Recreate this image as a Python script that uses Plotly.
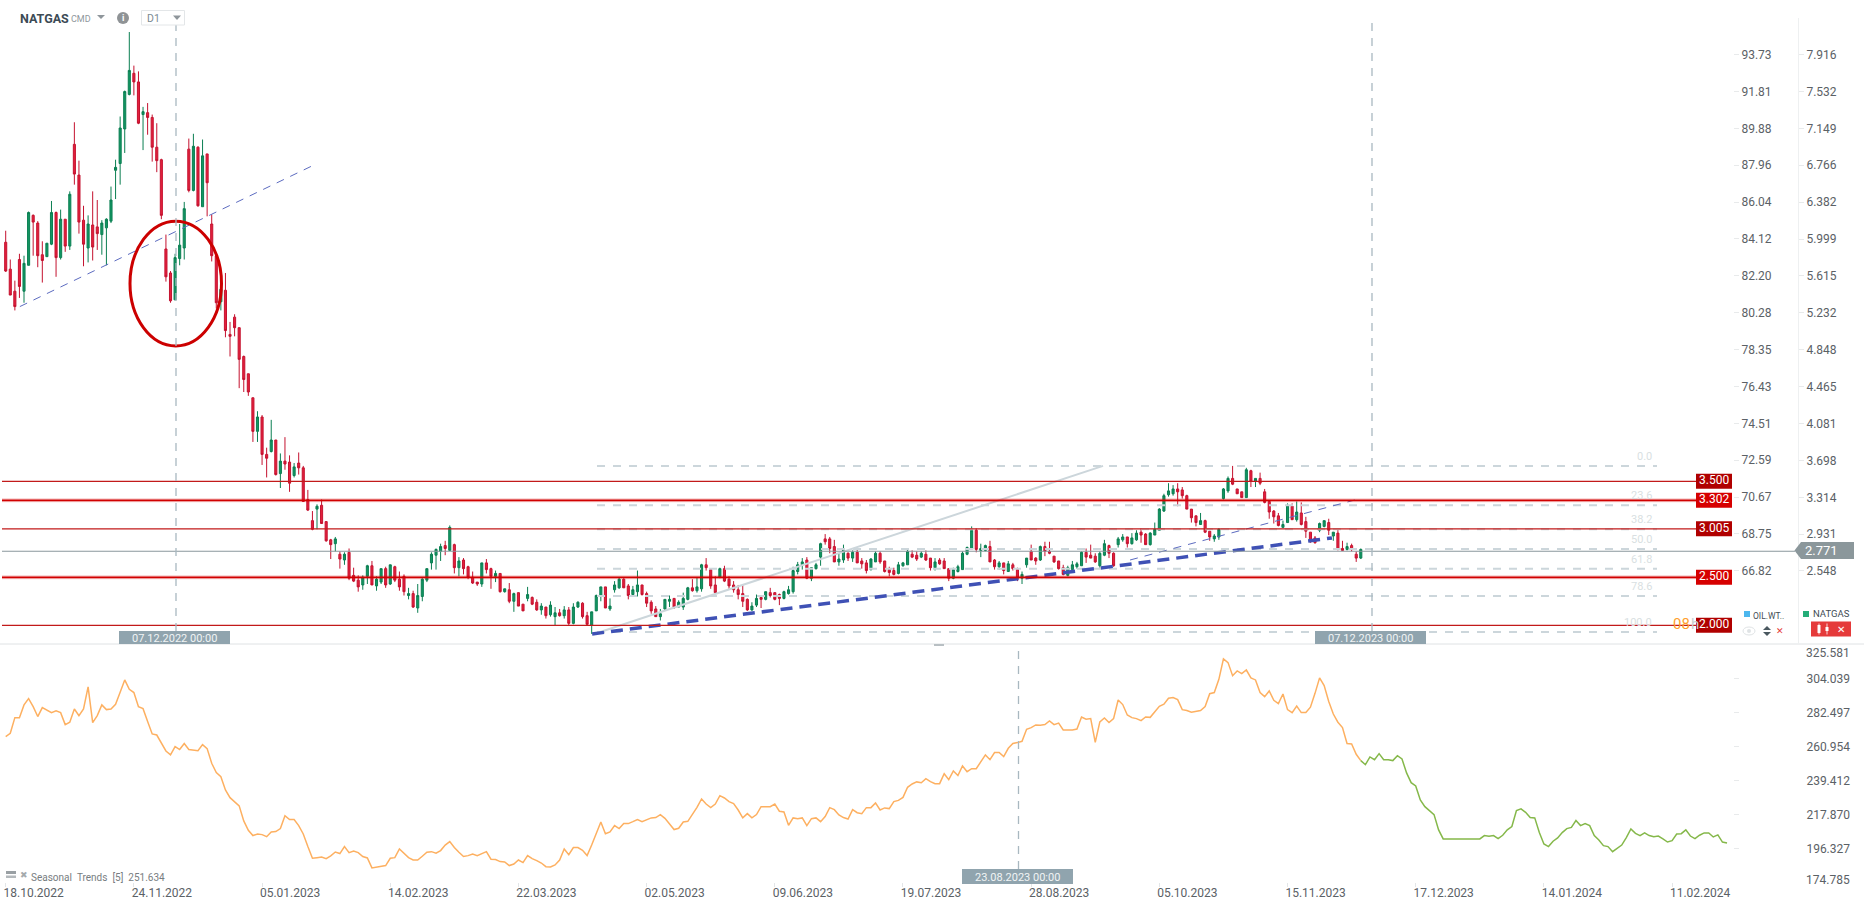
import plotly.graph_objects as go

W, H = 1866, 909

highs = [
6.11,5.81,5.59,5.87,5.85,6.31,6.28,6.21,6.00,5.98,
6.42,6.31,6.33,6.23,6.52,7.24,6.84,6.37,6.27,6.52,
6.43,6.22,6.24,6.57,6.85,7.30,7.57,8.18,7.83,7.77,
7.40,7.44,7.32,7.23,6.86,6.07,5.69,5.87,6.18,6.41,
7.07,7.12,6.99,7.06,6.91,6.28,5.86,5.50,5.67,5.16,
5.24,5.10,4.81,4.62,4.37,4.23,4.19,3.85,4.14,3.93,
3.79,3.96,3.77,3.69,3.80,3.66,3.41,3.19,3.26,3.31,
3.08,2.90,2.92,2.77,2.76,2.80,2.60,2.52,2.52,2.63,
2.67,2.51,2.59,2.61,2.63,2.62,2.56,2.53,2.39,2.36,
2.43,2.49,2.59,2.76,2.80,2.85,2.88,3.04,2.85,2.71,
2.70,2.62,2.56,2.45,2.65,2.69,2.60,2.57,2.54,2.38,
2.44,2.34,2.34,2.22,2.40,2.30,2.27,2.23,2.19,2.25,
2.19,2.17,2.20,2.19,2.23,2.25,2.24,2.14,2.14,2.32,
2.40,2.40,2.28,2.46,2.50,2.49,2.43,2.41,2.57,2.42,
2.35,2.26,2.20,2.17,2.27,2.31,2.28,2.26,2.34,2.40,
2.48,2.50,2.64,2.70,2.59,2.51,2.60,2.62,2.51,2.46,
2.42,2.42,2.28,2.24,2.32,2.30,2.35,2.39,2.34,2.33,
2.36,2.41,2.61,2.66,2.70,2.71,2.60,2.65,2.86,2.95,
2.92,2.89,2.75,2.84,2.76,2.78,2.80,2.70,2.68,2.70,
2.77,2.77,2.67,2.61,2.60,2.66,2.66,2.80,2.78,2.77,
2.77,2.78,2.70,2.70,2.70,2.70,2.59,2.60,2.63,2.77,
2.82,3.03,3.01,2.85,2.84,2.88,2.69,2.67,2.65,2.67,
2.65,2.60,2.56,2.70,2.84,2.71,2.83,2.87,2.87,2.72,
2.67,2.63,2.62,2.67,2.66,2.77,2.80,2.84,2.75,2.77,
2.89,2.84,2.76,2.92,2.95,2.92,2.96,2.99,3.01,2.96,
2.97,3.07,3.22,3.37,3.48,3.46,3.48,3.44,3.36,3.21,
3.14,3.17,3.10,2.98,2.95,3.01,3.43,3.55,3.66,3.42,
3.39,3.64,3.62,3.53,3.59,3.42,3.30,3.20,3.17,3.09,
3.27,3.27,3.29,3.28,3.13,2.97,2.93,3.07,3.09,3.11,
2.97,3.00,2.88,2.86,2.85,2.77,2.80]

lows = [
5.68,5.44,5.28,5.41,5.36,5.75,5.85,5.73,5.57,5.84,
5.96,5.63,5.81,5.89,5.91,6.59,6.08,5.74,5.78,5.80,
5.91,5.86,5.75,6.19,6.44,6.59,6.92,7.52,7.52,7.22,
6.95,7.11,6.83,6.72,6.23,5.58,5.36,5.39,5.75,5.81,
6.51,6.52,6.36,6.36,6.26,5.79,5.30,5.28,5.00,4.80,
5.01,4.47,4.43,4.39,3.91,3.91,3.67,3.54,3.80,3.56,
3.43,3.62,3.39,3.54,3.57,3.29,3.19,2.99,3.00,3.06,
2.87,2.69,2.77,2.59,2.63,2.47,2.45,2.35,2.37,2.43,
2.42,2.36,2.43,2.39,2.42,2.45,2.36,2.31,2.27,2.18,
2.13,2.25,2.45,2.58,2.58,2.67,2.73,2.78,2.54,2.51,
2.53,2.48,2.43,2.41,2.40,2.54,2.38,2.45,2.34,2.34,
2.23,2.14,2.20,2.15,2.25,2.21,2.15,2.11,2.07,2.09,
2.00,2.09,2.07,2.00,2.01,2.18,2.07,2.00,1.91,2.15,
2.25,2.18,2.15,2.34,2.38,2.39,2.27,2.30,2.30,2.31,
2.19,2.12,2.09,2.05,2.16,2.19,2.17,2.19,2.16,2.26,
2.35,2.34,2.35,2.57,2.38,2.34,2.49,2.45,2.38,2.34,
2.27,2.19,2.15,2.15,2.19,2.18,2.26,2.29,2.26,2.21,
2.27,2.32,2.33,2.53,2.58,2.48,2.46,2.58,2.62,2.84,
2.75,2.66,2.62,2.65,2.67,2.66,2.65,2.59,2.54,2.57,
2.66,2.64,2.55,2.51,2.52,2.53,2.61,2.63,2.70,2.67,
2.70,2.67,2.57,2.57,2.63,2.59,2.46,2.48,2.55,2.58,
2.73,2.79,2.76,2.71,2.77,2.66,2.58,2.58,2.53,2.56,
2.57,2.46,2.43,2.60,2.68,2.63,2.67,2.72,2.74,2.65,
2.58,2.52,2.51,2.58,2.59,2.62,2.65,2.70,2.65,2.60,
2.72,2.70,2.61,2.81,2.87,2.81,2.84,2.88,2.86,2.84,
2.83,2.94,2.99,3.18,3.34,3.35,3.24,3.32,3.21,3.07,
3.03,3.05,2.96,2.88,2.87,2.89,3.31,3.38,3.46,3.37,
3.33,3.33,3.44,3.44,3.46,3.27,3.11,3.06,3.03,3.02,
3.07,3.10,3.08,3.04,2.91,2.86,2.85,2.97,3.02,2.94,
2.88,2.78,2.78,2.78,2.77,2.66,2.69]

opens = [
5.99,5.71,5.48,5.81,5.48,5.75,6.27,6.19,5.86,5.84,
5.97,6.30,5.83,6.23,5.95,7.01,6.69,6.22,5.93,6.17,
6.15,6.07,6.14,6.21,6.74,6.81,7.17,7.53,7.75,7.66,
7.32,7.34,7.29,6.98,6.85,5.92,5.67,5.39,5.82,5.93,
6.96,6.53,6.98,6.36,6.91,6.18,5.85,5.37,5.49,5.03,
5.21,5.10,4.80,4.62,4.37,4.02,4.17,3.78,3.81,3.93,
3.58,3.71,3.70,3.56,3.69,3.64,3.31,3.09,3.21,3.25,
3.08,2.89,2.85,2.74,2.68,2.76,2.52,2.47,2.42,2.51,
2.62,2.41,2.45,2.59,2.43,2.61,2.48,2.51,2.31,2.33,
2.18,2.30,2.47,2.65,2.73,2.77,2.83,2.78,2.84,2.60,
2.68,2.61,2.50,2.45,2.43,2.65,2.59,2.51,2.54,2.35,
2.37,2.25,2.34,2.22,2.28,2.29,2.24,2.16,2.19,2.11,
2.09,2.13,2.10,2.16,2.02,2.19,2.23,2.10,2.00,2.15,
2.31,2.40,2.17,2.37,2.39,2.48,2.41,2.32,2.35,2.42,
2.33,2.24,2.17,2.09,2.17,2.25,2.28,2.19,2.19,2.27,
2.39,2.36,2.38,2.63,2.58,2.42,2.50,2.59,2.48,2.42,
2.37,2.33,2.27,2.16,2.21,2.29,2.27,2.34,2.34,2.32,
2.28,2.33,2.35,2.56,2.63,2.68,2.49,2.59,2.71,2.90,
2.90,2.82,2.66,2.68,2.75,2.70,2.76,2.67,2.65,2.58,
2.66,2.75,2.67,2.58,2.57,2.54,2.62,2.63,2.74,2.73,
2.71,2.74,2.70,2.60,2.68,2.67,2.59,2.49,2.56,2.58,
2.74,2.79,2.99,2.78,2.78,2.82,2.68,2.61,2.65,2.56,
2.63,2.58,2.49,2.63,2.77,2.70,2.68,2.82,2.77,2.72,
2.67,2.60,2.52,2.58,2.61,2.62,2.76,2.73,2.72,2.62,
2.73,2.83,2.75,2.84,2.89,2.92,2.85,2.89,2.97,2.95,
2.84,2.94,2.99,3.19,3.36,3.37,3.42,3.41,3.35,3.21,
3.14,3.05,3.09,2.98,2.90,2.92,3.32,3.40,3.53,3.42,
3.39,3.33,3.61,3.50,3.53,3.39,3.29,3.19,3.14,3.02,
3.07,3.24,3.10,3.17,3.08,2.97,2.91,2.99,3.03,3.07,
2.93,2.96,2.80,2.79,2.83,2.74,2.70]

closes = [
5.69,5.44,5.32,5.53,5.77,6.30,6.20,5.85,5.80,5.98,
6.30,5.83,6.23,5.95,6.49,6.70,6.20,5.97,6.18,5.94,
6.08,6.19,6.23,6.43,6.77,7.18,7.56,7.78,7.66,7.23,
7.35,7.29,6.98,6.84,6.27,5.63,5.38,5.83,5.96,6.34,
6.53,6.99,6.37,6.89,6.61,5.85,5.36,5.50,5.07,5.01,
5.10,4.77,4.56,4.43,4.02,4.17,3.78,3.74,3.93,3.57,
3.71,3.68,3.48,3.65,3.64,3.29,3.20,3.00,3.24,3.06,
2.88,2.84,2.90,2.69,2.74,2.49,2.46,2.40,2.50,2.62,
2.42,2.48,2.59,2.42,2.63,2.47,2.40,2.35,2.33,2.19,
2.31,2.48,2.59,2.74,2.79,2.82,2.80,3.02,2.60,2.67,
2.59,2.50,2.44,2.43,2.65,2.58,2.51,2.54,2.35,2.38,
2.25,2.33,2.20,2.15,2.32,2.22,2.16,2.20,2.10,2.21,
2.13,2.10,2.16,2.02,2.19,2.24,2.09,2.01,2.14,2.31,
2.40,2.18,2.20,2.42,2.48,2.39,2.31,2.37,2.42,2.32,
2.23,2.15,2.09,2.12,2.27,2.27,2.19,2.24,2.28,2.39,
2.36,2.40,2.63,2.60,2.41,2.34,2.59,2.46,2.41,2.37,
2.32,2.25,2.16,2.20,2.28,2.27,2.35,2.31,2.27,2.28,
2.35,2.37,2.57,2.63,2.66,2.49,2.60,2.63,2.85,2.87,
2.80,2.66,2.69,2.79,2.70,2.76,2.65,2.64,2.57,2.69,
2.75,2.66,2.56,2.55,2.53,2.63,2.65,2.77,2.71,2.69,
2.75,2.68,2.60,2.66,2.64,2.59,2.49,2.58,2.61,2.75,
2.81,2.99,2.79,2.80,2.83,2.66,2.61,2.65,2.57,2.64,
2.59,2.49,2.53,2.70,2.68,2.67,2.82,2.77,2.75,2.66,
2.59,2.53,2.60,2.63,2.64,2.76,2.71,2.70,2.66,2.75,
2.85,2.75,2.62,2.90,2.92,2.85,2.91,2.96,2.94,2.84,
2.96,3.00,3.21,3.35,3.40,3.42,3.39,3.35,3.21,3.12,
3.07,3.09,2.97,2.92,2.93,3.00,3.42,3.53,3.47,3.37,
3.33,3.62,3.50,3.53,3.48,3.28,3.18,3.13,3.04,3.05,
3.25,3.10,3.18,3.05,2.98,2.87,2.86,3.06,3.09,2.99,
2.97,2.79,2.78,2.82,2.79,2.70,2.79]

seasonal_history = [
267.1,269.2,279.1,279.1,287.2,291.2,286.1,279.8,285.5,284.0,282.3,283.4,282.3,274.7,276.2,284.6,280.4,284.6,298.6,276.0,
280.4,287.2,284.2,284.6,287.6,295.2,303.0,297.1,295.0,286.1,284.8,276.6,268.8,268.1,262.9,258.0,255.5,260.8,258.9,262.7,
258.9,258.6,258.2,262.0,259.5,250.2,244.3,241.7,233.3,228.4,225.9,223.2,213.7,207.7,204.4,205.4,205.0,203.7,206.7,206.9,
208.8,217.0,214.5,214.5,210.7,205.4,197.4,190.0,190.4,190.8,189.8,191.5,194.0,193.0,197.4,193.6,194.6,193.6,191.1,190.2,
183.9,184.3,185.1,185.4,190.0,190.4,195.9,193.2,190.4,188.9,188.9,191.3,193.8,194.2,193.2,194.9,198.4,200.6,196.8,193.8,
191.1,191.7,192.7,191.7,192.7,194.2,189.4,189.2,187.9,187.7,185.4,186.4,188.9,
187.3,191.7,189.8,188.5,187.0,184.7,184.5,185.8,188.9,195.9,192.3,196.8,196.8,195.1,191.7,198.4,205.2,213.0,205.6,206.7,
210.7,208.8,212.0,212.0,213.2,214.5,213.2,214.3,215.6,215.8,217.7,215.3,212.0,208.2,209.0,213.0,213.4,217.5,222.3,227.6,
224.4,222.1,224.4,229.7,228.2,225.9,224.6,220.6,215.6,218.3,215.6,217.7,222.7,222.7,222.7,224.4,219.8,219.4,210.9,215.6,
215.1,215.6,210.7,215.1,215.6,213.2,216.4,222.1,220.8,217.5,215.8,214.9,220.8,218.9,218.3,222.1,222.1,225.1,220.6,221.9,
221.5,225.9,226.7,228.6,235.0,237.1,238.4,237.9,240.5,238.6,237.3,237.3,243.6,239.8,245.3,242.4,248.5,244.9,246.8,246.8,
250.8,255.5,252.5,257.0,257.0,254.4,259.7,262.7,263.3,264.1,271.7,272.8,274.5,274.3,
274.7,277.0,274.7,275.7,271.3,271.3,271.3,271.9,279.5,278.1,278.5,263.5,276.4,278.9,276.0,278.5,290.3,287.4,280.8,279.1,
278.5,277.2,279.5,279.3,282.5,286.3,287.6,291.4,291.8,290.5,284.2,283.6,282.5,282.9,283.6,286.1,294.3,295.0,303.4,316.3,
314.0,305.7,308.7,307.0,309.3,304.3,303.0,295.0,292.4,296.0,290.1,288.0,294.1,284.2,282.3,286.5,282.3,282.3,285.7,294.5,
304.3,299.4,289.3,281.4,276.2,272.8,262.7,262.4,255.9,251.9]

seasonal_forecast = [
251.9,249.3,254.2,252.5,256.3,252.5,252.5,251.9,255.0,252.9,244.1,237.9,235.8,227.0,222.7,220.2,217.7,208.0,
202.3,202.3,202.3,202.3,202.3,202.3,202.3,202.3,202.3,
204.4,203.9,204.4,202.5,204.6,208.0,210.1,220.2,221.3,219.1,215.8,215.6,206.3,199.1,197.4,200.8,202.9,
206.3,208.8,209.6,213.9,210.7,212.0,210.7,204.4,201.6,198.0,197.4,194.2,196.3,198.4,203.1,208.6,205.8,204.4,206.1,
204.4,203.7,204.1,202.3,200.3,201.2,205.4,205.6,208.0,204.1,202.5,204.6,206.1,206.1,203.5,204.8,200.3,199.7]

time_tick_labels = ["18.10.2022", "24.11.2022", "05.01.2023", "14.02.2023", "22.03.2023", "02.05.2023", "09.06.2023",
                    "19.07.2023", "28.08.2023", "05.10.2023", "15.11.2023", "17.12.2023", "14.01.2024", "11.02.2024"]
time_tick_bars = [0, 28, 56, 84, 112, 140, 168, 196, 224, 252, 280, 308, 336, 364]

natgas_ticks = [7.916, 7.532, 7.149, 6.766, 6.382, 5.999, 5.615, 5.232, 4.848, 4.465, 4.081, 3.698, 3.314, 2.931, 2.548]
oil_ticks = [93.73, 91.81, 89.88, 87.96, 86.04, 84.12, 82.20, 80.28, 78.35, 76.43, 74.51, 72.59, 70.67, 68.75, 66.82]
seasonal_ticks = [304.039, 282.497, 260.954, 239.412, 217.870, 196.327]
seasonal_edge_ticks = ["325.581", "174.785"]

level_prices = [3.500, 3.302, 3.005, 2.500, 2.000]
level_labels = ["3.500", "3.302", "3.005", "2.500", "2.000"]
level_strong = [False, True, False, True, False]
last_price = 2.771

fib_prices = [3.66, 3.25, 3.00, 2.795, 2.59, 2.305, 1.93]
fib_labels = ["0.0", "23.6", "38.2", "50.0", "61.8", "78.6", "100.0"]

# scale: bar index to pixel, and pane ranges
BAR0, BARW = 5.7, 4.578
PANE_BOTTOM, AXIS_BOTTOM = 644, 882
x_range = [-BAR0 / BARW, (W - BAR0) / BARW]
price_range = [1.805, 8.5135]
natgas_label_range = [1.789, 8.4836]
oil_label_range = [63.01, 96.57]
seasonal_range = [174.98, 325.77]

GREEN_L, GREEN_F = "#0b7f52", "#129663"
RED_L, RED_F = "#c4122f", "#e4203d"
ORANGE, LIME = "#fdb061", "#85b84a"
TAG = "#90a4ae"
TEXT = "#5b6166"

def fx(px): return px / W
def fy(py): return 1 - py / H
def bx(px): return (px - BAR0) / BARW

bars = list(range(len(closes)))
fig = go.Figure()

fig.add_trace(go.Candlestick(
    x=bars, open=opens, high=highs, low=lows, close=closes, xaxis="x", yaxis="y",
    increasing=dict(line=dict(color=GREEN_L, width=1), fillcolor=GREEN_F),
    decreasing=dict(line=dict(color=RED_L, width=1), fillcolor=RED_F),
    whiskerwidth=0, showlegend=False, hoverinfo="skip"))

fig.add_trace(go.Scatter(x=list(range(len(seasonal_history))), y=seasonal_history, mode="lines",
                         line=dict(color=ORANGE, width=1.5), xaxis="x2", yaxis="y2",
                         showlegend=False, hoverinfo="skip"))
start = len(seasonal_history) - 1
fig.add_trace(go.Scatter(x=list(range(start, start + len(seasonal_forecast))), y=seasonal_forecast, mode="lines",
                         line=dict(color=LIME, width=1.5), xaxis="x2", yaxis="y2",
                         showlegend=False, hoverinfo="skip"))
# carriers so the label axes are drawn
for ya, val in (("y3", natgas_ticks[0]), ("y4", oil_ticks[0])):
    fig.add_trace(go.Scatter(x=[0], y=[val], mode="lines", xaxis="x", yaxis=ya, showlegend=False, hoverinfo="skip"))
fig.add_trace(go.Scatter(x=[0], y=[seasonal_ticks[0]], mode="lines", xaxis="x2", yaxis="y5", showlegend=False, hoverinfo="skip"))

shapes, ann = [], []

def add_rect(x0, y0, x1, y1, fill, line=None):
    shapes.append(dict(type="rect", xref="paper", yref="paper", x0=fx(x0), x1=fx(x1), y0=fy(y0), y1=fy(y1),
                       fillcolor=fill, line=dict(color=line or fill, width=1 if line else 0)))

def add_poly(points, fill):
    path = "M" + " L".join(f"{fx(a):.5f},{fy(b):.5f}" for a, b in points) + " Z"
    shapes.append(dict(type="path", xref="paper", yref="paper", path=path, fillcolor=fill, line=dict(width=0)))

def add_text(x, y, text, size=11, color=TEXT, anchor="left", family="Roboto"):
    ann.append(dict(xref="paper", yref="paper", x=fx(x), y=fy(y), text=text, showarrow=False,
                    xanchor=anchor, yanchor="middle", font=dict(family=family, size=size, color=color),
                    borderpad=0, borderwidth=0))

# Fibonacci levels
for p, lab in zip(fib_prices, fib_labels):
    shapes.append(dict(type="line", xref="x", yref="y", x0=bx(597), x1=bx(1657), y0=p, y1=p,
                       line=dict(color="#ccd6db", width=2, dash="8px,8px")))
    add_text(1652, 625.3 - (p - 2) * 96 - 9.5, lab, size=11, color="#d9dfe2", anchor="right")

# trend lines (bar index, price)
shapes.append(dict(type="line", xref="x", yref="y", x0=129.2, x1=239.7, y0=1.92, y1=3.66,
                   line=dict(color="#ccd6db", width=2)))
shapes.append(dict(type="line", xref="x", yref="y", x0=3.1, x1=68.0, y0=5.32, y1=6.81,
                   line=dict(color="#5c6bc0", width=1, dash="8px,7px")))
shapes.append(dict(type="line", xref="x", yref="y", x0=245.6, x1=294.7, y0=2.68, y1=3.305,
                   line=dict(color="#5c6bc0", width=1, dash="8px,7px")))
shapes.append(dict(type="line", xref="x", yref="y", x0=128.1, x1=289.7, y0=1.91, y1=2.91,
                   line=dict(color="#3f51b5", width=3.5, dash="12px,7px")))

# last price line
shapes.append(dict(type="line", xref="paper", yref="y", x0=fx(2), x1=fx(1795), y0=last_price, y1=last_price,
                   line=dict(color="#8a979c", width=1.2)))

# horizontal levels
for p, strong in zip(level_prices, level_strong):
    if strong:
        shapes.append(dict(type="line", xref="paper", yref="y", x0=fx(2), x1=fx(1696), y0=p, y1=p,
                           line=dict(color="rgba(214,0,0,0.2)", width=4)))
    shapes.append(dict(type="line", xref="paper", yref="y", x0=fx(2), x1=fx(1696), y0=p, y1=p,
                       line=dict(color="#d10000" if strong else "#c21a1a", width=1.8 if strong else 1.2)))

# ellipse and vertical markers
shapes.append(dict(type="circle", xref="x", yref="y", x0=bx(130), x1=bx(221.5), y0=4.91, y1=6.21,
                   line=dict(color="#cc0000", width=3)))
for bar in (bx(176), bx(1372)):
    shapes.append(dict(type="line", xref="x", yref="paper", x0=bar, x1=bar, y0=fy(631), y1=fy(17),
                       line=dict(color="#a9b8c0", width=1.3, dash="8px,7px")))
shapes.append(dict(type="line", xref="x", yref="paper", x0=bx(1018.5), x1=bx(1018.5), y0=fy(869), y1=fy(PANE_BOTTOM),
                   line=dict(color="#a9b8c0", width=1.3, dash="8px,7px")))

# frame
shapes.append(dict(type="line", xref="paper", yref="paper", x0=0, x1=fx(1864), y0=fy(PANE_BOTTOM), y1=fy(PANE_BOTTOM),
                   line=dict(color="#dfe2e4", width=1)))
shapes.append(dict(type="line", xref="paper", yref="paper", x0=fx(1798.5), x1=fx(1798.5), y0=fy(PANE_BOTTOM), y1=fy(18),
                   line=dict(color="#eef0f1", width=1)))
add_rect(934, 644, 944, 646, "#b8bfc3")

# date tags
for x0, y0, x1, y1, lab in ((119, 631, 230, 644, "07.12.2022 00:00"), (1315, 631, 1426, 644, "07.12.2023 00:00"),
                            (962, 869, 1073, 884, "23.08.2023 00:00")):
    add_rect(x0, y0, x1, y1, TAG)
    add_text((x0 + x1) / 2, (y0 + y1) / 2 + 0.5, lab, size=11, color="#f1f4f5", anchor="center")

# level tags
for p, lab, strong in zip(level_prices, level_labels, level_strong):
    py = 625.3 - (p - 2) * 96
    if lab == "2.000":
        add_text(1673, py - 1, "08", size=15, color="#ff9f2e")
        add_text(1691, py - 1, "h", size=15, color="#c9cdd0")
    add_rect(1696, py - 7.5, 1732, py + 7.5, "#d60000" if strong else "#b00000")
    add_text(1714, py - 1, lab, size=12, color="#ffffff", anchor="center")

# last price tag
add_poly([(1794.5, 550.5), (1801, 542), (1854, 542), (1854, 559), (1801, 559)], "#8b979b")
add_text(1805, 550.5, "2.771", size=13, color="#ffffff")

# header
add_text(20, 18.5, "<b>NATGAS</b>", size=12.5, color="#3c4b55")
add_text(71, 19.5, "CMD", size=9, color="#8f979c")
add_poly([(97, 15), (105, 15), (101, 19)], "#8f969b")
shapes.append(dict(type="circle", xref="paper", yref="paper", x0=fx(117), x1=fx(129), y0=fy(24), y1=fy(12),
                   fillcolor="#8f9396", line=dict(width=0)))
add_text(123, 18, "<b>i</b>", size=9, color="#ffffff", anchor="center")
add_rect(141.5, 10.5, 184.5, 25, "#ffffff", "#e3e6e8")
add_text(147, 18.5, "D1", size=10.5, color="#7b8a92")
add_poly([(173, 15.5), (181, 15.5), (177, 20)], "#8f969b")

# right legends
add_rect(1744, 611, 1750, 617, "#4db7ee")
add_text(1753, 615.5, "OIL.WT..", size=8.5, color="#3f4c54")
add_rect(1803, 611, 1809, 617, "#25ad78")
add_text(1813, 613.5, "NATGAS", size=9.5, color="#3f4c54")
add_rect(1811, 621.5, 1851, 636.5, "#e53a3a")
# candle icon in the pill
add_rect(1817.5, 625, 1820.5, 633, "#ffffff")
add_rect(1818.6, 623.5, 1819.4, 634.5, "#ffffff")
add_rect(1825.5, 627, 1828.5, 631, "#ffffff")
add_rect(1826.6, 623.5, 1827.4, 634.5, "#ffffff")
add_text(1841, 629, "\u2715", size=10, color="#ffffff", anchor="center", family="DejaVu Sans")
shapes.append(dict(type="circle", xref="paper", yref="paper", x0=fx(1743), x1=fx(1755), y0=fy(635), y1=fy(627),
                   line=dict(color="#dfe3e5", width=1)))
shapes.append(dict(type="circle", xref="paper", yref="paper", x0=fx(1747), x1=fx(1751), y0=fy(633), y1=fy(629),
                   fillcolor="#dfe3e5", line=dict(width=0)))
add_poly([(1763, 630), (1771, 630), (1767, 626)], "#4a5860")
add_poly([(1763, 632), (1771, 632), (1767, 636)], "#4a5860")
add_text(1780, 631, "\u2715", size=9, color="#e53935", anchor="center", family="DejaVu Sans")

# seasonal labels
add_text(1806, 652.5, seasonal_edge_ticks[0], size=12, color=TEXT)
add_text(1806, 879.5, seasonal_edge_ticks[1], size=12, color=TEXT)
add_rect(6, 871, 16, 874, "#9aa0a4")
add_rect(6, 875.5, 16, 878, "#b4b9bc")
add_text(24, 874.5, "\u2716", size=9, color="#a5aaad", anchor="center", family="DejaVu Sans")
add_text(31, 877, "Seasonal\u00a0\u00a0Trends\u00a0\u00a0[5]\u00a0\u00a0251.634", size=10, color="#777d81")

axis_font = dict(family="Roboto", size=12, color=TEXT)
layout = dict(
    width=W, height=H, margin=dict(l=0, r=0, t=0, b=0), autosize=False,
    paper_bgcolor="#ffffff", plot_bgcolor="#ffffff", showlegend=False, boxgap=0.35, hovermode=False,
    xaxis=dict(domain=[0, 1], range=x_range, visible=False, anchor="y", rangeslider=dict(visible=False), fixedrange=True),
    yaxis=dict(domain=[fy(PANE_BOTTOM), 1], range=price_range, visible=False, fixedrange=True),
    xaxis2=dict(domain=[0, 1], range=x_range, anchor="y2", showgrid=False, zeroline=False, showline=False,
                tickmode="array", tickvals=time_tick_bars, ticktext=time_tick_labels, ticks="outside",
                ticklen=4, tickcolor="#e3e6e8", tickfont=axis_font, ticklabelshift=28, ticklabelstandoff=-4,
                fixedrange=True),
    yaxis2=dict(domain=[fy(AXIS_BOTTOM), fy(PANE_BOTTOM)], range=seasonal_range, anchor="free", position=fx(1733),
                side="right", showgrid=False, zeroline=False, showline=False, tickmode="array",
                tickvals=seasonal_ticks, ticktext=[""] * len(seasonal_ticks), ticks="outside", ticklen=5,
                tickcolor="#e8eaeb", fixedrange=True),
    yaxis3=dict(range=natgas_label_range, overlaying="y", anchor="free", position=fx(1798), side="right",
                showgrid=False, zeroline=False, showline=False, tickmode="array", tickvals=natgas_ticks,
                ticktext=[f"{v:.3f}" for v in natgas_ticks], ticks="outside", ticklen=5, tickcolor="#e8eaeb",
                tickfont=axis_font, fixedrange=True),
    yaxis4=dict(range=oil_label_range, overlaying="y", anchor="free", position=fx(1733), side="right",
                showgrid=False, zeroline=False, showline=False, tickmode="array", tickvals=oil_ticks,
                ticktext=[f"{v:.2f}" for v in oil_ticks], ticks="outside", ticklen=5, tickcolor="#e8eaeb",
                tickfont=axis_font, fixedrange=True),
    yaxis5=dict(range=seasonal_range, overlaying="y2", anchor="free", position=fx(1798), side="right",
                showgrid=False, zeroline=False, showline=False, tickmode="array", tickvals=seasonal_ticks,
                ticktext=[f"{v:.3f}" for v in seasonal_ticks], ticks="outside", ticklen=5, tickcolor="#ffffff",
                tickfont=axis_font, fixedrange=True),
    shapes=shapes, annotations=ann,
)
fig.update_layout(**layout)

fig.write_html("out.html", config=dict(displayModeBar=False, responsive=False),
               post_script="document.body.style.margin='0';document.body.style.overflow='hidden';")
